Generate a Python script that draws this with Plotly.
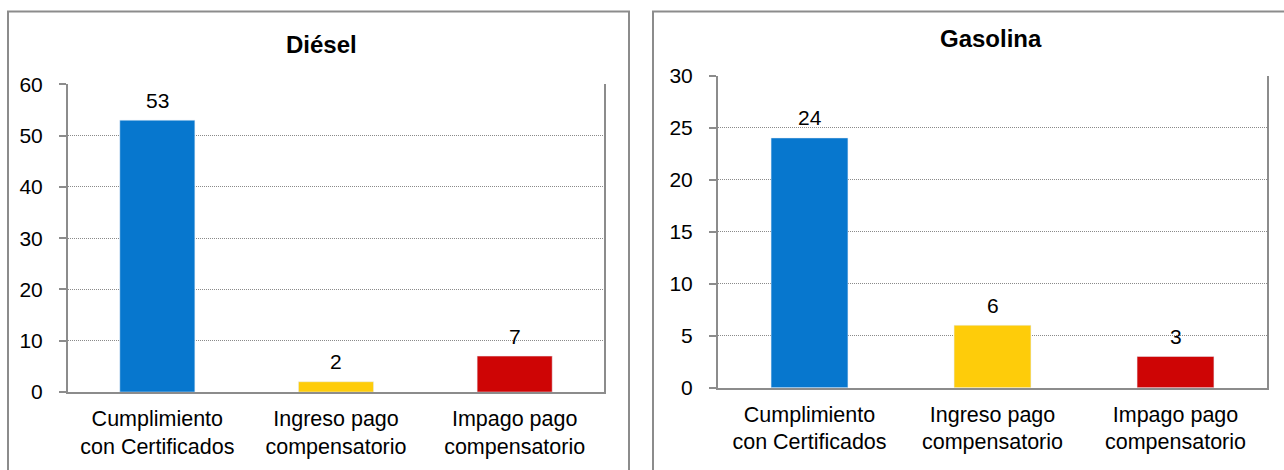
import plotly.graph_objects as go

W, H = 1284, 470

categories = ["Cumplimiento<br>con Certificados", "Ingreso pago<br>compensatorio", "Impago pago<br>compensatorio"]
diesel_values = [53, 2, 7]
gasolina_values = [24, 6, 3]
bar_colors = ["#0777CE", "#FECC0A", "#CE0505"]
titles = ["Diésel", "Gasolina"]

FONT = "Liberation Sans, Arial, sans-serif"

def px_x(x):
    return x / W

def px_y(y):
    return 1 - y / H

fig = go.Figure()

fig.add_trace(go.Bar(x=[0, 1, 2], y=diesel_values, marker_color=bar_colors, width=0.42,
                     xaxis="x", yaxis="y", showlegend=False, hoverinfo="skip"))
fig.add_trace(go.Bar(x=[0, 1, 2], y=gasolina_values, marker_color=bar_colors, width=0.42,
                     xaxis="x2", yaxis="y2", showlegend=False, hoverinfo="skip"))

common_x = dict(range=[-0.5, 2.5], tickmode="array", tickvals=[0, 1, 2], ticktext=categories,
                showline=True, linecolor="#8C8C8C", linewidth=2, showgrid=False, ticks="",
                ticklabelstandoff=6, automargin=False,
                tickfont=dict(family=FONT, size=21.5, color="#000"), zeroline=False, fixedrange=True)
common_y = dict(showline=True, linecolor="#8C8C8C", linewidth=2, mirror=True,
                showgrid=True, gridcolor="#8A8A8A", griddash="1px,1px", gridwidth=1,
                ticks="outside", ticklen=7, tickcolor="#8C8C8C", tickwidth=2,
                ticklabelstandoff=12, automargin=False,
                tickfont=dict(family=FONT, size=21, color="#000"), zeroline=False, fixedrange=True)

fig.update_layout(
    width=W, height=H, autosize=False,
    margin=dict(l=0, r=0, t=0, b=0, pad=0),
    paper_bgcolor="white", plot_bgcolor="white",
    xaxis=dict(domain=[px_x(68), px_x(604)], anchor="y", **common_x),
    yaxis=dict(domain=[px_y(392), px_y(84.3)], anchor="x", range=[0, 60], dtick=10, **common_y),
    xaxis2=dict(domain=[px_x(718), px_x(1267)], anchor="y2", **common_x),
    yaxis2=dict(domain=[px_y(387.7), px_y(75.5)], anchor="x2", range=[0, 30], dtick=5, **common_y),
)

annotations = []
# value labels
for xa, ya, vals in (("x", "y", diesel_values), ("x2", "y2", gasolina_values)):
    for i, v in enumerate(vals):
        annotations.append(dict(x=i, y=v, xref=xa, yref=ya, text=str(v), showarrow=False,
                                yanchor="middle", yshift=20,
                                font=dict(family=FONT, size=21, color="#000")))
# titles
annotations.append(dict(x=px_x(321), y=px_y(45), xref="paper", yref="paper", text="<b>" + titles[0] + "</b>",
                        showarrow=False, xanchor="center", yanchor="middle",
                        font=dict(family=FONT, size=24, color="#000")))
annotations.append(dict(x=px_x(991), y=px_y(38), xref="paper", yref="paper", text="<b>" + titles[1] + "</b>",
                        showarrow=False, xanchor="center", yanchor="middle",
                        font=dict(family=FONT, size=24, color="#000")))
fig.update_layout(annotations=annotations)

# panel borders
border = dict(color="#8C8C8C", width=2)
shapes = [
    dict(type="rect", xref="paper", yref="paper", x0=px_x(8), x1=px_x(629), y0=-0.2, y1=px_y(11.5), line=border),
    dict(type="rect", xref="paper", yref="paper", x0=px_x(653), x1=1.2, y0=-0.2, y1=px_y(11.5), line=border),
]
fig.update_layout(shapes=shapes)

fig.write_html("out.html", config={"displayModeBar": False, "staticPlot": True},
               post_script="document.body.style.margin='0';document.body.style.padding='0';"
                           "document.body.style.overflow='hidden';")
